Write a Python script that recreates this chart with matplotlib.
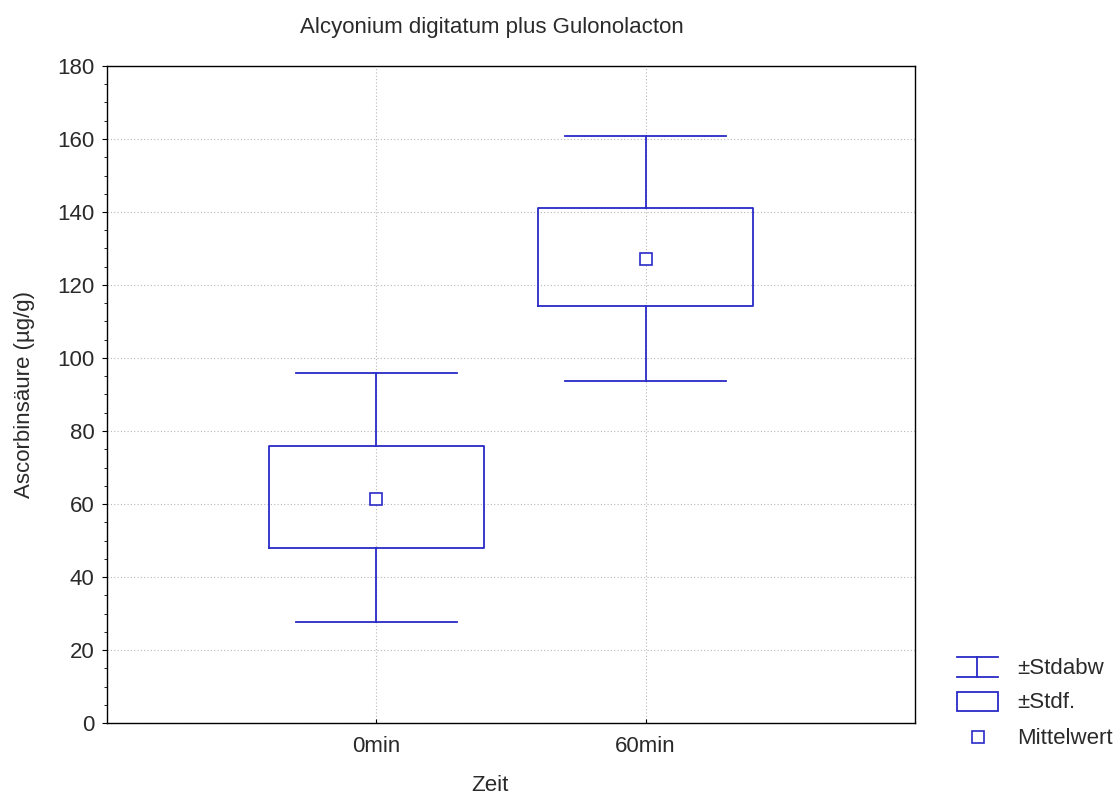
#!/usr/bin/env python3
import numpy as np
import matplotlib
matplotlib.use("Agg")
import matplotlib.pyplot as plt
from matplotlib.lines import Line2D
from matplotlib.patches import Rectangle
from matplotlib.ticker import MultipleLocator

plt.rcParams['font.family'] = ['Liberation Sans', 'DejaVu Sans']
plt.rcParams['text.color'] = '#2a2a2a'
plt.rcParams['xtick.labelcolor'] = '#2a2a2a'
plt.rcParams['ytick.labelcolor'] = '#2a2a2a'
plt.rcParams['axes.labelcolor'] = '#2a2a2a'

groups = ['0min', '60min']
means = [61.5, 127.2]
se_lo = [48.0, 114.2]      # Mittelwert - Stdf.
se_hi = [75.8, 141.0]      # Mittelwert + Stdf.
sd_lo = [27.6, 93.7]       # Mittelwert - Stdabw
sd_hi = [95.9, 160.9]      # Mittelwert + Stdabw

blue = '#2a2ac8'
fs = 16

fig = plt.figure(figsize=(11.2, 7.96), dpi=100)
ax = fig.add_axes([107/1120, 1-723/796, 808/1120, 657/796])

stats = []
for i in range(len(groups)):
    stats.append({'label': groups[i], 'mean': means[i], 'med': means[i],
                  'q1': se_lo[i], 'q3': se_hi[i],
                  'whislo': sd_lo[i], 'whishi': sd_hi[i], 'fliers': []})

ax.bxp(stats, positions=np.arange(len(groups)), widths=0.8, capwidths=0.6,
       showmeans=True, showfliers=False,
       boxprops=dict(color=blue, lw=1.3),
       whiskerprops=dict(color=blue, lw=1.3),
       capprops=dict(color=blue, lw=1.3),
       medianprops=dict(lw=0),
       meanprops=dict(marker='s', markersize=8, markerfacecolor='white',
                      markeredgecolor=blue, markeredgewidth=1.2))

ax.set_xlim(-1, 2)
ax.set_ylim(0, 180)
ax.set_xticks(np.arange(len(groups)))
ax.set_xticklabels(groups)
ax.yaxis.set_major_locator(MultipleLocator(20))
ax.yaxis.set_minor_locator(MultipleLocator(5))
ax.tick_params(axis='y', which='major', direction='out', length=3.5, labelsize=fs, pad=5.5)
ax.tick_params(axis='y', which='minor', direction='out', length=2)
ax.tick_params(axis='x', direction='in', length=3, labelsize=fs, pad=9.5)
ax.grid(True, which='major', color='#b8b8b8', linestyle=(0, (1, 2)), lw=0.8)
ax.set_axisbelow(True)
for s in ax.spines.values():
    s.set_linewidth(1.0)

ax.set_ylabel('Ascorbinsäure (µg/g)', fontsize=fs)
ax.yaxis.set_label_coords(-0.089, 0.5)
ax.set_xlabel('Zeit', fontsize=fs)
ax.xaxis.set_label_coords((490-107)/808, -0.079)
ax.set_title('Alcyonium digitatum plus Gulonolacton', fontsize=fs,
             x=(492-107)/808, pad=24)

# legend drawn beside the axes
def px(x, y):
    return x/1120, 1-y/796

fig.add_artist(Line2D([px(957, 0)[0], px(998, 0)[0]], [px(0, 657)[1]]*2, color=blue, lw=1.3))
fig.add_artist(Line2D([px(957, 0)[0], px(998, 0)[0]], [px(0, 677)[1]]*2, color=blue, lw=1.3))
fig.add_artist(Line2D([px(977, 0)[0]]*2, [px(0, 657)[1], px(0, 677)[1]], color=blue, lw=1.3))
fig.text(*px(1017, 669), '±Stdabw', fontsize=fs, va='center')
x0, y0 = px(957, 711)
fig.add_artist(Rectangle((x0, y0), 41/1120, 19/796, fill=False, edgecolor=blue, lw=1.3))
fig.text(*px(1017, 702), '±Stdf.', fontsize=fs, va='center')
fig.add_artist(Line2D([px(978, 0)[0]], [px(0, 737)[1]], marker='s', markersize=8,
                      markerfacecolor='white', markeredgecolor=blue, markeredgewidth=1.2))
fig.text(*px(1017, 738), 'Mittelwert', fontsize=fs, va='center')

plt.savefig('out.png', dpi=100)
